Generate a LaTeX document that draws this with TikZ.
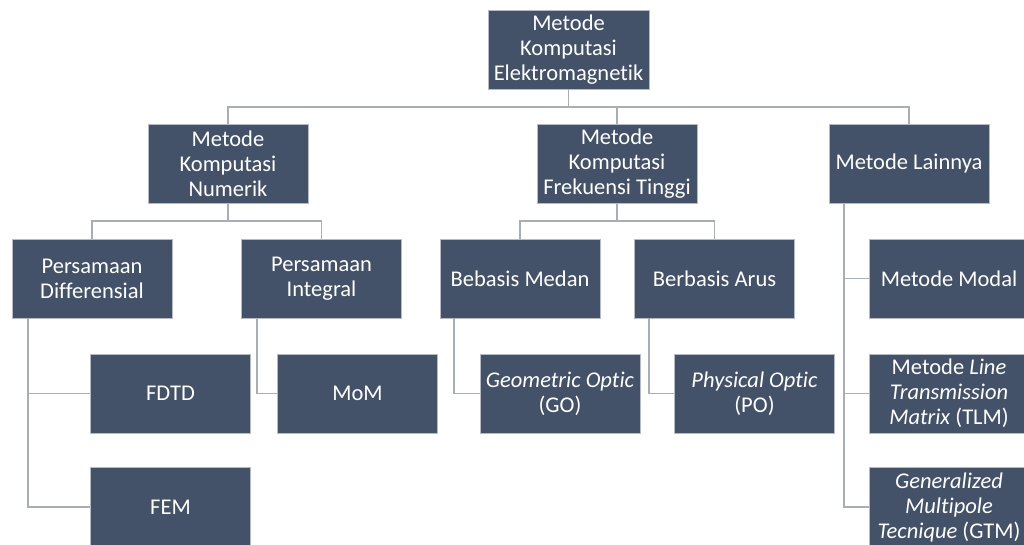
\documentclass[tikz,border=0pt]{standalone}
\usepackage{fontspec}
\setmainfont{Carlito}[Ligatures=NoCommon]
\usetikzlibrary{calc}
\definecolor{boxfill}{HTML}{435268}
\definecolor{boxedge}{HTML}{B4BBC6}
\definecolor{linkcol}{HTML}{A7AEBA}
\begin{document}
\begin{tikzpicture}[x=1pt,y=-1pt,
  box/.style={rectangle, fill=boxfill, draw=boxedge, line width=0.6pt, text=white,
    minimum width=160pt, minimum height=79pt, inner sep=1pt, align=center,
    font=\fontsize{22.5}{25}\selectfont},
  link/.style={draw=linkcol, line width=1.6pt}]
\useasboundingbox (0,0) rectangle (1024,545);
\clip (0,0) rectangle (1024,545);
\fill[white] (0,0) rectangle (1024,545);
% nodes
\node[box, minimum width=161pt] (top) at (568.5,49.5) {Metode\\Komputasi\\Elektromagnetik};
\node[box] (num) at (228,164) {Metode\\Komputasi\\Numerik};
\node[box] (frek) at (617,164) {Metode\\Komputasi\\Frekuensi Tinggi};
\node[box] (lain) at (909,164) {Metode Lainnya};
\node[box] (diff) at (92,278.5) {Persamaan\\Differensial};
\node[box] (integ) at (321.5,279) {Persamaan\\Integral};
\node[box] (medan) at (520,278.5) {Bebasis Medan};
\node[box] (arus) at (714.5,278.5) {Berbasis Arus};
\node[box] (modal) at (949,278.5) {Metode Modal};
\node[box] (fdtd) at (170.5,393.5) {FDTD};
\node[box] (mom) at (357.5,393.5) {MoM};
\node[box] (go) at (560,393.5) {\itshape Geometric Optic\\(GO)};
\node[box] (po) at (754.5,393.5) {\itshape Physical Optic\\(PO)};
\node[box] (tlm) at (949,393.5) {Metode \textit{Line}\\\textit{Transmission}\\\textit{Matrix} (TLM)};
\node[box] (fem) at (170.5,507) {FEM};
\node[box] (gtm) at (949,507) {\textit{Generalized}\\\textit{Multipole}\\\textit{Tecnique} (GTM)};
% connectors
\coordinate (bus1) at (0,107);
\coordinate (bus2) at (0,221);
\draw[link] (top.south) -- (top.south |- bus1);
\draw[link] (num.north) |- (lain.north |- bus1) -- (lain.north);
\draw[link] (frek.north) -- (frek.north |- bus1);
\draw[link] (num.south) -- (num.south |- bus2);
\draw[link] (diff.north) |- (integ.north |- bus2) -- (integ.north);
\draw[link] (frek.south) -- (frek.south |- bus2);
\draw[link] (medan.north) |- (arus.north |- bus2) -- (arus.north);
\coordinate (dv) at ([xshift=16pt]diff.south west);
\draw[link] (dv) |- (fem.west);
\draw[link] (dv |- fdtd.west) -- (fdtd.west);
\draw[link] ([xshift=15.5pt]integ.south west) |- (mom.west);
\draw[link] ([xshift=14pt]medan.south west) |- (go.west);
\draw[link] ([xshift=15pt]arus.south west) |- (po.west);
\coordinate (lv) at ([xshift=15pt]lain.south west);
\draw[link] (lv) |- (gtm.west);
\draw[link] (lv |- modal.west) -- (modal.west);
\draw[link] (lv |- tlm.west) -- (tlm.west);
\end{tikzpicture}
\end{document}
